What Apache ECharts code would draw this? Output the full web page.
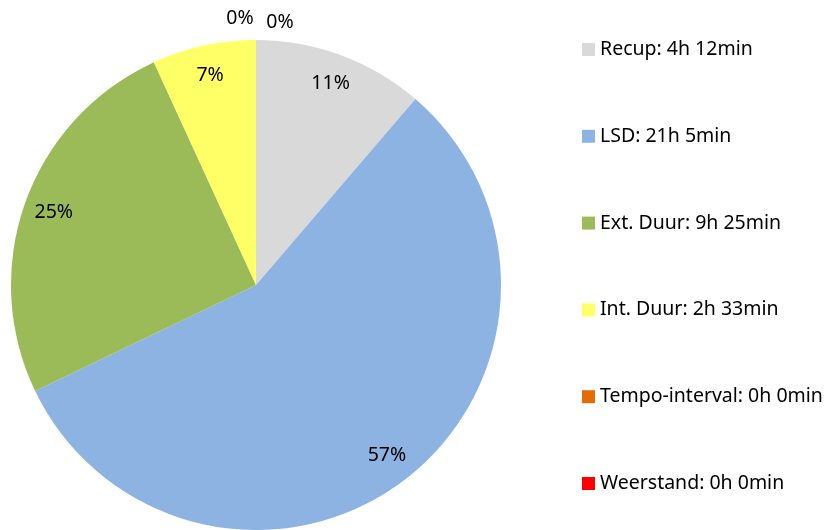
<!DOCTYPE html>
<html>
<head>
<meta charset="utf-8">
<script src="https://cdn.jsdelivr.net/npm/echarts@6/dist/echarts.min.js"></script>
<style>
  html, body { margin: 0; padding: 0; background: #fff; }
  #chart { width: 832px; height: 530px; }
</style>
</head>
<body>
<div id="chart"></div>
<script>
// training time per zone, in minutes
const categories = ["Recup", "LSD", "Ext. Duur", "Int. Duur", "Tempo-interval", "Weerstand"];
const minutes = [252, 1265, 565, 153, 0, 0];
const colors = ["#D9D9D9", "#8DB3E2", "#9BBB59", "#FFFF66", "#E36C09", "#FF0000"];

const fmtTime = (m) => Math.floor(m / 60) + "h " + (m % 60) + "min";
const legendNames = categories.map((c, i) => c + ": " + fmtTime(minutes[i]));

const CX = 256, CY = 285, R = 245;

const pieData = legendNames.map((name, i) => ({
  name: name,
  value: minutes[i],
  itemStyle: { color: colors[i] },
}));

const labelData = legendNames.map((name, i) => ({
  name: name,
  value: minutes[i],
  label: minutes[i] === 0
    ? { position: "outside" }
    : { position: "inside" },
  labelLine: { show: false },
}));

// zero slices sit on top of each other at 12 o'clock; spread their labels like Excel does
const zeroLabelOffset = { 4: [-16, -267], 5: [24, -263] };

const chart = echarts.init(document.getElementById("chart"));

chart.setOption({
  animation: false,
  textStyle: { fontFamily: "Noto Sans" },
  legend: {
    orient: "vertical",
    left: 577,
    top: 33,
    itemWidth: 13,
    itemHeight: 13,
    itemGap: 63.8,
    icon: "rect",
    selectedMode: false,
    data: legendNames,
    textStyle: { fontSize: 19.5, color: "#000", lineHeight: 23, fontFamily: "Noto Sans" },
  },
  series: [
    {
      type: "pie",
      center: [CX, CY],
      radius: [0, R],
      startAngle: 90,
      clockwise: true,
      silent: true,
      label: { show: false },
      labelLine: { show: false },
      data: pieData,
    },
    {
      // transparent ring used only to place the percentage labels near the rim
      type: "pie",
      center: [CX, CY],
      radius: [179, R],
      startAngle: 90,
      clockwise: true,
      silent: true,
      itemStyle: { color: "rgba(0,0,0,0)" },
      label: {
        show: true,
        formatter: (p) => Math.round(p.percent) + "%",
        fontSize: 19.5,
        color: "#000",
        fontFamily: "Noto Sans",
      },
      labelLine: { show: false, length: 4, length2: 0 },
      labelLayout: (params) => {
        const off = zeroLabelOffset[params.dataIndex];
        if (!off) return {};
        const r = params.labelRect;
        return {
          dx: CX + off[0] - (r.x + r.width / 2),
          dy: CY + off[1] - (r.y + r.height / 2),
        };
      },
      data: labelData,
    },
  ],
});
</script>
</body>
</html>
